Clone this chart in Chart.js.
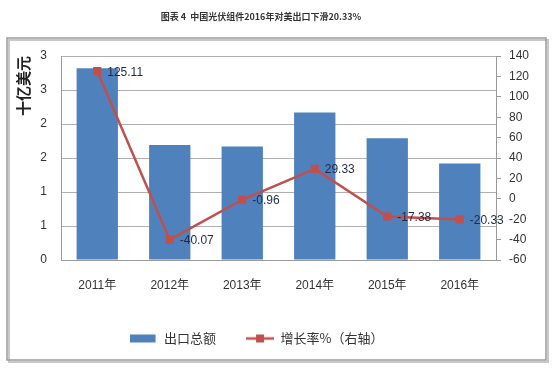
<!DOCTYPE html>
<html>
<head>
<meta charset="utf-8">
<script src="https://cdn.jsdelivr.net/npm/chart.js@4.4.1/dist/chart.umd.min.js"></script>
<style>
    html, body { margin: 0; padding: 0; background: #fff; }
    #wrap { width: 555px; height: 374px; position: relative; }
</style>
</head>
<body>
<div id="wrap"><canvas id="chart" width="555" height="374"></canvas></div>
<script>
// ========== DATOS ==========
const years = ['2011年', '2012年', '2013年', '2014年', '2015年', '2016年'];
const exportTotal = [2.82, 1.69, 1.67, 2.17, 1.79, 1.42];   // 十亿美元
const growthRate = [125.11, -40.07, -0.96, 29.33, -17.38, -20.33]; // %
const leftTicks = [0, 0.5, 1, 1.5, 2, 2.5, 3];
const rightTicks = [-60, -40, -20, 0, 20, 40, 60, 80, 100, 120, 140];

const BLUE = '#4F81BD';
const RED = '#C0504D';
const FONT = "'Liberation Sans', 'Noto Sans CJK SC', sans-serif";
const CJK = "'Noto Sans CJK SC', sans-serif";

// ========== ICONOS LEYENDA ==========
function legendIcon(kind) {
    const c = document.createElement('canvas');
    c.width = 28; c.height = 10;
    const g = c.getContext('2d');
    if (kind === 'bar') {
        g.fillStyle = BLUE;
        g.fillRect(0, 1, 26, 8);
    } else {
        g.strokeStyle = RED; g.lineWidth = 2.5;
        g.beginPath(); g.moveTo(0, 5); g.lineTo(28, 5); g.stroke();
        g.fillStyle = RED;
        g.fillRect(10, 1, 8, 8);
    }
    return c;
}
const icons = [legendIcon('bar'), legendIcon('line')];

// ========== PLUGIN: marco, título, etiquetas ==========
const decor = {
    id: 'decor',
    afterLayout(chart) {
        // la leyenda del original queda un poco a la izquierda
        chart.legend.right -= 42;
    },
    beforeDraw(chart) {
        const ctx = chart.ctx;
        ctx.save();
        // sombra
        ctx.strokeStyle = '#c8c8c8'; ctx.lineWidth = 2;
        ctx.strokeRect(9, 40, 539, 322);
        ctx.strokeStyle = '#9a9a9a'; ctx.lineWidth = 1.5;
        ctx.strokeRect(7, 38, 539, 322);
        // título
        ctx.fillStyle = '#333';
        ctx.font = "bold 9px " + CJK;
        ctx.textAlign = 'center'; ctx.textBaseline = 'middle';
        ctx.fillText('图表 4  中国光伏组件2016年对美出口下滑20.33%', 261, 17);
        ctx.restore();
    },
    afterDatasetsDraw(chart) {
        const ctx = chart.ctx;
        const meta = chart.getDatasetMeta(1);
        ctx.save();
        ctx.fillStyle = '#1f2a44';
        ctx.font = "12px " + FONT;
        ctx.textAlign = 'left'; ctx.textBaseline = 'middle';
        meta.data.forEach((p, i) => {
            ctx.fillText(growthRate[i].toFixed(2), p.x + 10, p.y + 1);
        });
        ctx.restore();
    }
};

// ========== GRÁFICO ==========
new Chart(document.getElementById('chart'), {
    data: {
        labels: years,
        datasets: [
            {
                type: 'bar', label: '出口总额', data: exportTotal,
                backgroundColor: BLUE, yAxisID: 'y',
                barPercentage: 0.57, categoryPercentage: 1, order: 2
            },
            {
                type: 'line', label: '增长率%（右轴）', data: growthRate,
                borderColor: RED, backgroundColor: RED, borderWidth: 2.5,
                pointStyle: 'rect', pointRadius: 4, pointBackgroundColor: RED,
                pointBorderColor: RED, yAxisID: 'y1', tension: 0, order: 1
            }
        ]
    },
    options: {
        responsive: false,
        animation: false,
        layout: { padding: { top: 56, left: 0, right: 0, bottom: 19 } },
        plugins: {
            tooltip: { enabled: false },
            legend: {
                position: 'bottom',
                labels: {
                    usePointStyle: true,
                    pointStyleWidth: 28,
                    boxHeight: 10,
                    padding: 30,
                    color: '#333',
                    font: { family: CJK, size: 13 },
                    generateLabels(chart) {
                        return chart.data.datasets.map((ds, i) => ({
                            text: ds.label, pointStyle: icons[i], datasetIndex: i,
                            fillStyle: 'transparent', strokeStyle: 'transparent', lineWidth: 0,
                            fontColor: '#333'
                        }));
                    }
                }
            }
        },
        scales: {
            x: {
                grid: { display: false, drawTicks: false },
                border: { display: true, color: '#9a9a9a' },
                ticks: { color: '#333', padding: 18, font: { family: FONT, size: 12 } },
                afterFit(s) { s.height = 42; }
            },
            y: {
                position: 'left', min: 0, max: 3,
                afterBuildTicks(s) { s.ticks = leftTicks.map(v => ({ value: v })); },
                ticks: {
                    color: '#333', padding: 14, font: { family: FONT, size: 12 },
                    callback: v => Math.round(v)
                },
                grid: { color: '#b0b0b0', drawTicks: false },
                border: { display: true, color: '#9a9a9a' },
                title: {
                    display: true, text: '十亿美元', align: 'end',
                    color: '#222', font: { family: CJK, size: 15, weight: 'bold' },
                    padding: { top: 14, bottom: 0 }
                },
                afterFit(s) { s.width = 61; }
            },
            y1: {
                position: 'right', min: -60, max: 140,
                afterBuildTicks(s) { s.ticks = rightTicks.map(v => ({ value: v })); },
                ticks: { color: '#333', padding: 8, font: { family: FONT, size: 12 } },
                grid: { drawOnChartArea: false, drawTicks: true, tickLength: 5, color: '#9a9a9a' },
                border: { display: true, color: '#9a9a9a' },
                afterFit(s) { s.width = 59; }
            }
        }
    },
    plugins: [decor]
});
</script>
</body>
</html>
